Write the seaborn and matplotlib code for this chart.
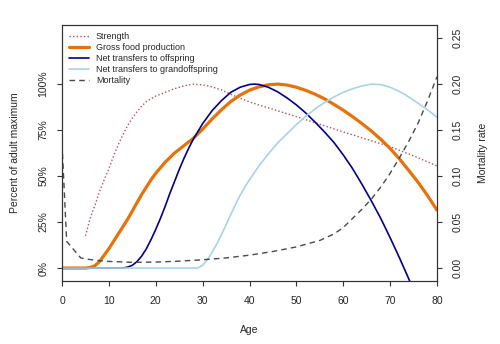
import matplotlib
matplotlib.use("Agg")
import matplotlib.pyplot as plt
import seaborn as sns
from matplotlib.ticker import FuncFormatter

# Strength (percent of adult maximum)
strength_age = [5, 6, 7, 8, 9, 10, 11, 12, 13, 14, 15, 16, 17, 18, 19, 20, 22, 24, 26,
                28, 30, 32, 34, 36, 38, 40, 45, 50, 55, 60, 65, 70, 75, 80]
strength_val = [17.5, 27, 34, 41.5, 48, 54, 61, 67, 72.5, 77.5, 81.5, 85, 88, 90.5, 92,
                93.5, 95.5, 97.5, 99, 100, 99.6, 98.5, 96.8, 94.5, 92.3, 90.3, 86.3,
                82.3, 78.2, 74, 70, 66, 61, 55.5]

# Gross food production (percent of adult maximum)
food_age = [0, 5, 6, 7, 8, 9, 10, 11, 12, 13, 14, 15, 16, 17, 18, 19, 20, 21, 22, 23,
            24, 25, 26, 27, 28, 29, 30, 32, 34, 36, 38, 40, 42, 44, 46, 48, 50, 52, 54,
            56, 58, 60, 62, 64, 66, 68, 70, 72, 74, 76, 78, 80]
food_val = [0, 0, 0.3, 1.2, 3.5, 7, 10.5, 14.5, 18.5, 22.5, 26.5, 31, 35.5, 40, 44, 48,
            51.5, 54.5, 57.5, 60, 62.5, 64.5, 66.5, 68.5, 70.5, 73, 75.5, 81, 86, 90.5,
            94, 96.7, 98.5, 99.6, 100, 99.5, 98.3, 96.6, 94.5, 92, 89, 85.8, 82.3, 78.5,
            74.5, 70, 65, 59.3, 53, 46.5, 39.3, 31.5]

# Net transfers to offspring (percent of adult maximum)
offspring_age = [0, 13, 14, 15, 16, 17, 18, 19, 20, 21, 22, 23, 24, 25, 26, 27, 28, 30,
                 32, 34, 36, 38, 40, 41, 42, 44, 46, 48, 50, 52, 54, 56, 58, 60, 62, 64,
                 66, 68, 70, 72, 74, 76]
offspring_val = [0, 0, 0.5, 1.5, 3.5, 6.5, 10.5, 15.5, 21, 27, 33.5, 40.5, 47, 53.5,
                 59.5, 65, 70, 78.5, 85.5, 91, 95.5, 98.3, 99.8, 100, 99.8, 98.3, 95.8,
                 92.5, 88.7, 84.3, 79.3, 74, 68.3, 61.5, 54, 45.5, 36.5, 27, 16.5, 5.5,
                 -6, -18]

# Net transfers to grandoffspring (percent of adult maximum)
grand_age = [0, 29, 30, 31, 32, 33, 34, 35, 36, 37, 38, 39, 40, 42, 44, 46, 48, 50, 52,
             54, 56, 58, 60, 62, 64, 66, 68, 70, 72, 74, 76, 78, 80]
grand_val = [0, 0, 1.5, 4.5, 8.5, 13, 18, 23.5, 29, 34.5, 39.5, 44, 48, 55.5, 62, 68,
             73, 78, 82.5, 86.5, 90, 93, 95.5, 97.5, 99, 100, 99.7, 98.3, 96, 93, 89.5,
             86, 82]

# Mortality rate (right axis)
mort_age = [0, 1, 4, 5, 7, 10, 15, 20, 25, 30, 35, 40, 45, 50, 55, 58, 60, 62, 64, 66,
            68, 70, 72, 74, 76, 78, 80]
mort_val = [0.135, 0.029, 0.011, 0.010, 0.0085, 0.0072, 0.0062, 0.0065, 0.0075, 0.009,
            0.011, 0.014, 0.018, 0.023, 0.030, 0.037, 0.044, 0.054, 0.064, 0.075, 0.088,
            0.103, 0.120, 0.138, 0.158, 0.182, 0.208]

age_ticks = [0, 10, 20, 30, 40, 50, 60, 70, 80]
pct_ticks = [0, 25, 50, 75, 100]
mort_ticks = [0.00, 0.05, 0.10, 0.15, 0.20, 0.25]

sns.set_theme(style="white")
plt.rcParams['font.family'] = ['Liberation Sans', 'DejaVu Sans']

frame_col = "#333333"
fig = plt.figure(figsize=(5, 3.44), dpi=100)
ax = fig.add_axes([0.124, 0.183, 0.75, 0.744])
ax2 = ax.twinx()

sns.lineplot(x=strength_age, y=strength_val, ax=ax, color="#b4535e", lw=1.0,
             linestyle=(0, (1, 1.6)), label="Strength")
sns.lineplot(x=food_age, y=food_val, ax=ax, color="#e8710a", lw=2.3,
             label="Gross food production")
sns.lineplot(x=offspring_age, y=offspring_val, ax=ax, color="#00008b", lw=1.2,
             label="Net transfers to offspring")
sns.lineplot(x=grand_age, y=grand_val, ax=ax, color="#a9d3e6", lw=1.2,
             label="Net transfers to grandoffspring")
sns.lineplot(x=mort_age, y=mort_val, ax=ax2, color="#4a4a4a", lw=1.0,
             linestyle=(0, (4, 3)), label="Mortality")

ax.set_xlim(0, 80)
ax.set_ylim(-7.07, 132.07)
ax2.set_ylim(-0.01413, 0.2641)

ax.set_xticks(age_ticks)
ax.set_yticks(pct_ticks)
ax.yaxis.set_major_formatter(FuncFormatter(lambda v, p: f"{v:.0f}%"))
ax2.set_yticks(mort_ticks)
ax2.yaxis.set_major_formatter(FuncFormatter(lambda v, p: f"{v:.2f}"))

for lab in ax.get_yticklabels():
    lab.set_rotation(90)
    lab.set_va("center")
for lab in ax2.get_yticklabels():
    lab.set_rotation(90)
    lab.set_va("center")

ax.tick_params(axis="x", direction="out", length=3.6, width=0.8, color=frame_col,
               labelsize=7.5, pad=7, bottom=True)
ax.tick_params(axis="y", direction="out", length=3.6, width=0.8, color=frame_col,
               labelsize=7.5, pad=6, left=True)
ax2.tick_params(axis="y", direction="out", length=3.6, width=0.8, color=frame_col,
                labelsize=7.5, pad=8, right=True)

for a in (ax, ax2):
    for s in a.spines.values():
        s.set_visible(True)
        s.set_color(frame_col)
        s.set_linewidth(0.8)

ax.set_xlabel("Age", fontsize=7.5)
ax.xaxis.set_label_coords(0.5, -0.172)
ax.set_ylabel("Percent of adult maximum", fontsize=7.5)
ax.yaxis.set_label_coords(-0.112, 0.5)
ax2.set_ylabel("Mortality rate", fontsize=7.5, rotation=90)
ax2.yaxis.set_label_coords(1.11, 0.5)

h1, l1 = ax.get_legend_handles_labels()
h2, l2 = ax2.get_legend_handles_labels()
if ax.get_legend() is not None:
    ax.get_legend().remove()
ax2.legend(h1 + h2, l1 + l2, loc="upper left", frameon=False, fontsize=6.5,
           handlelength=2.2, handletextpad=0.8, labelspacing=0.22,
           borderaxespad=0.45, borderpad=0.3)

fig.savefig("out.png", dpi=100)
